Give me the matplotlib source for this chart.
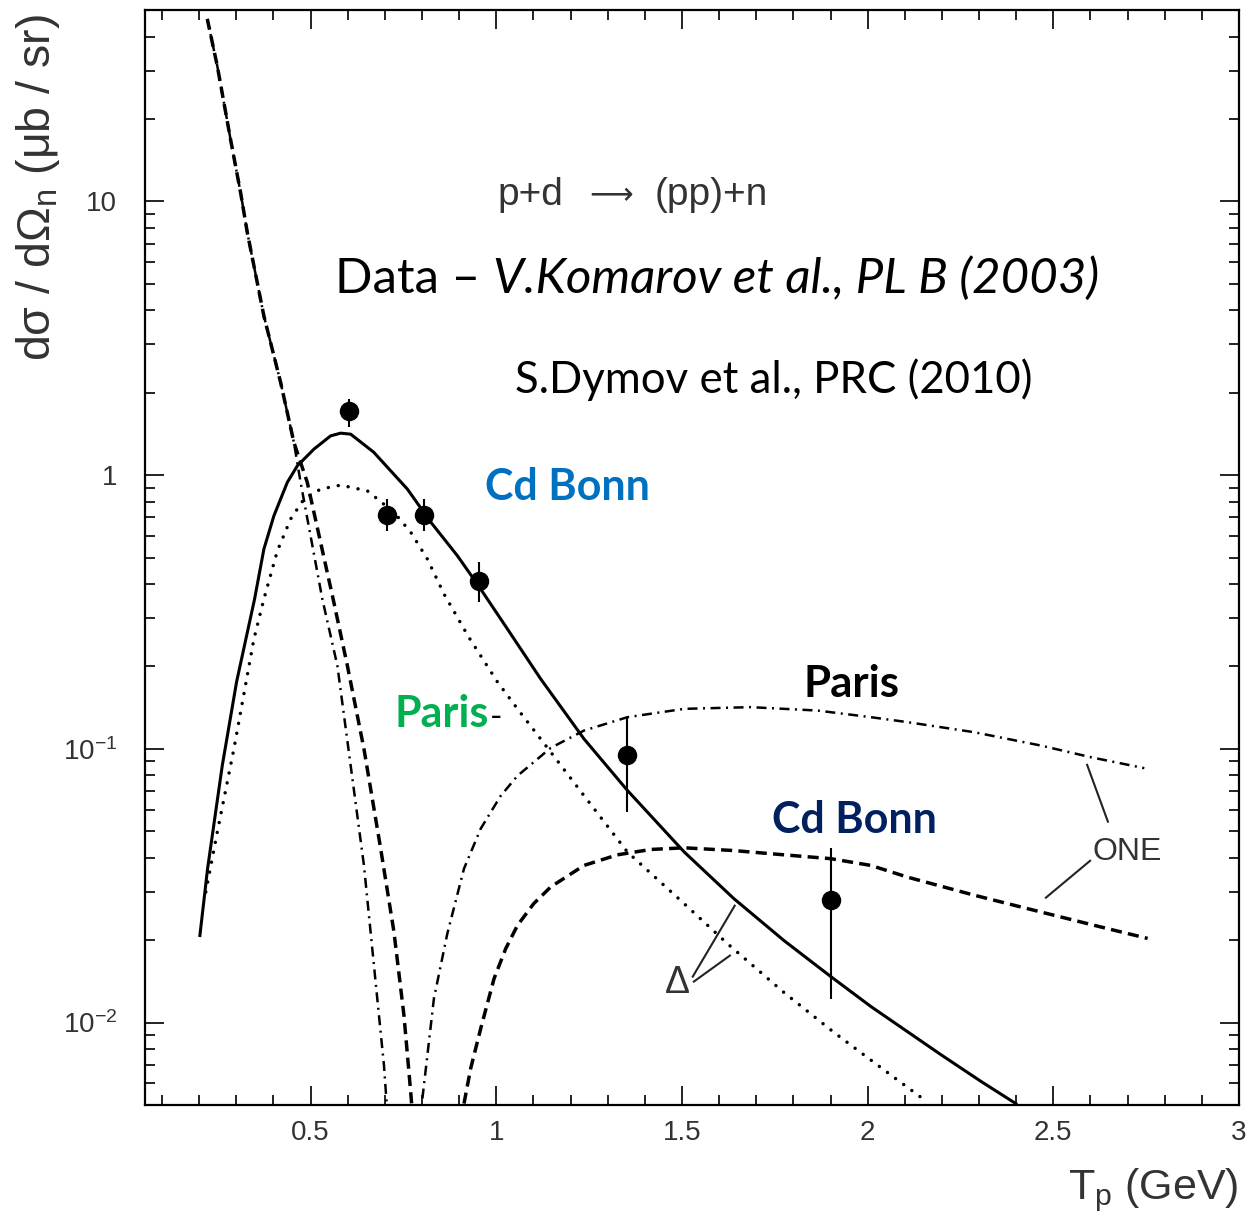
import numpy as np
import matplotlib
matplotlib.use("Agg")
import matplotlib.pyplot as plt
from matplotlib.ticker import MultipleLocator, LogLocator, FixedLocator, FixedFormatter, NullFormatter

# ---- measured cross sections, p+d -> (pp)+n, V.Komarov et al. (2003)
tp_data = [0.603, 0.705, 0.804, 0.953, 1.351, 1.901]
xs_data = [1.71, 0.716, 0.716, 0.411, 0.095, 0.0280]
xs_low = [1.50, 0.625, 0.625, 0.344, 0.0588, 0.01224]
xs_high = [1.89, 0.817, 0.817, 0.481, 0.1305, 0.0434]

# ---- full calculation, CD Bonn (solid)
tp_total = [0.2018, 0.2225, 0.2621, 0.3006, 0.3491, 0.3742, 0.4011, 0.4372, 0.4642, 0.5089,
            0.5539, 0.5808, 0.6078, 0.6697, 0.7605, 0.8233, 0.8952, 0.9518, 1.030, 1.1196,
            1.236, 1.353, 1.506, 1.640, 1.775, 1.901, 2.009, 2.197, 2.305, 2.399]
xs_total = [0.0208, 0.0365, 0.0869, 0.1756, 0.3527, 0.537, 0.710, 0.9405, 1.081, 1.244,
            1.391, 1.423, 1.411, 1.213, 0.889, 0.674, 0.5075, 0.3945, 0.274, 0.180,
            0.1088, 0.0705, 0.0420, 0.02835, 0.01992, 0.01472, 0.01144, 0.00764, 0.0061, 0.00506]

# ---- Delta contribution (dotted)
tp_delta = [0.2177, 0.2487, 0.2934, 0.3473, 0.3742, 0.4103, 0.4461, 0.4820, 0.5269, 0.5808,
            0.6527, 0.7244, 0.7694, 0.8144, 0.8591, 0.9257, 1.003, 1.057, 1.1466, 1.236,
            1.353, 1.506, 1.6226, 1.775, 1.910, 2.0356, 2.152]
xs_delta = [0.0300, 0.0497, 0.100, 0.252, 0.3527, 0.528, 0.691, 0.817, 0.889, 0.919,
            0.876, 0.731, 0.619, 0.4935, 0.368, 0.256, 0.1756, 0.140, 0.0973, 0.0675,
            0.0420, 0.02718, 0.01942, 0.01287, 0.00919, 0.00685, 0.00523]

# ---- one-nucleon exchange, Paris potential (dash-dot), two branches around its zero
tp_one_paris_a = [0.2217, 0.2487, 0.2845, 0.3114, 0.3295, 0.3742, 0.4192, 0.455, 0.473,
                  0.5315, 0.572, 0.6078, 0.6436, 0.6705, 0.6975, 0.7048]
xs_one_paris_a = [46.4, 31.2, 16.8, 10.76, 7.69, 3.81, 2.18, 1.316, 0.9405,
                  0.3527, 0.2014, 0.0869, 0.0375, 0.01619, 0.00698, 0.00506]
tp_one_paris_b = [0.801, 0.832, 0.868, 0.913, 0.958, 1.012, 1.057, 1.1466, 1.236, 1.353,
                  1.506, 1.685, 1.865, 2.009, 2.107, 2.287, 2.4666, 2.601, 2.745]
xs_one_paris_b = [0.00528, 0.01224, 0.0211, 0.0365, 0.0511, 0.0674, 0.0797, 0.1008, 0.1166,
                  0.1305, 0.140, 0.142, 0.138, 0.1305, 0.1252, 0.115, 0.1028, 0.0932, 0.0850]

# ---- one-nucleon exchange, CD Bonn potential (dashed), two branches around its zero
tp_one_bonn_a = [0.2217, 0.2487, 0.2845, 0.3114, 0.3295, 0.3742, 0.4192, 0.455, 0.491,
                 0.5606, 0.5989, 0.6436, 0.6886, 0.7244, 0.7513, 0.7694, 0.772]
xs_one_bonn_a = [46.4, 31.2, 16.8, 10.76, 7.69, 3.81, 2.18, 1.316, 0.9405,
                 0.3527, 0.2014, 0.100, 0.0432, 0.02144, 0.01063, 0.00559, 0.00506]
tp_one_bonn_b = [0.913, 0.931, 0.958, 0.994, 1.0253, 1.057, 1.1007, 1.1466, 1.236, 1.326,
                 1.416, 1.506, 1.640, 1.775, 1.901, 2.009, 2.107, 2.287, 2.4666, 2.646, 2.754]
xs_one_bonn_b = [0.00506, 0.00680, 0.00951, 0.01448, 0.01862, 0.02265, 0.0272, 0.0313, 0.0375,
                 0.0410, 0.0429, 0.0435, 0.0425, 0.0410, 0.0397, 0.0375, 0.0340, 0.0292,
                 0.02535, 0.02204, 0.0203]

# ---- leader lines for the "ONE" and "Δ" tags (data coordinates)
one_leader_x = [[2.591, 2.647], [2.599, 2.480]]
one_leader_y = [[0.0874, 0.0542], [0.0390, 0.0286]]
delta_leader_x = [[1.529, 1.642], [1.532, 1.629]]
delta_leader_y = [[0.01472, 0.02673], [0.01412, 0.01757]]

y_tick_values = [0.01, 0.1, 1, 10]
y_tick_labels = [r"$\mathregular{10^{-2}}$", r"$\mathregular{10^{-1}}$", "1", "10"]
x_tick_values = [0.5, 1, 1.5, 2, 2.5, 3]
x_tick_labels = ["0.5", "1", "1.5", "2", "2.5", "3"]

W, H = 1249, 1217
plt.rcParams["font.family"] = ["Liberation Sans", "DejaVu Sans"]
plt.rcParams["mathtext.fontset"] = "custom"
plt.rcParams["mathtext.rm"] = "Liberation Sans"

fig = plt.figure(figsize=(W / 100, H / 100), dpi=100)
ax = fig.add_axes([145 / W, 1 - 1105 / H, (1239 - 145) / W, (1105 - 10) / H])

ax.set_yscale("log")
ax.set_xlim(0.054, 3.0)
ax.set_ylim(0.005, 50)

ink = "black"
ax.plot(tp_total, xs_total, color=ink, lw=2.2, solid_joinstyle="round")
ax.plot(tp_delta, xs_delta, color=ink, lw=2.5, linestyle=(0, (0.01, 2.9)),
        dash_capstyle="round")
dashdot = (0, (4.0, 2.2, 0.8, 2.2))
ax.plot(tp_one_paris_a, xs_one_paris_a, color=ink, lw=1.8, linestyle=dashdot)
ax.plot(tp_one_paris_b, xs_one_paris_b, color=ink, lw=1.8, linestyle=dashdot)
dashed = (0, (3.2, 1.8))
ax.plot(tp_one_bonn_a, xs_one_bonn_a, color=ink, lw=2.5, linestyle=dashed)
ax.plot(tp_one_bonn_b, xs_one_bonn_b, color=ink, lw=2.5, linestyle=dashed)

xs_arr = np.array(xs_data)
yerr = [xs_arr - np.array(xs_low), np.array(xs_high) - xs_arr]
ax.errorbar(tp_data, xs_data, yerr=yerr, fmt="o", color=ink, ms=13,
            elinewidth=1.5, capsize=0, zorder=5)

for lx, ly in zip(one_leader_x + delta_leader_x, one_leader_y + delta_leader_y):
    ax.plot(lx, ly, color="#222222", lw=1.5)

# axes frame and ticks
for s in ax.spines.values():
    s.set_linewidth(1.6)
ax.xaxis.set_major_locator(FixedLocator(x_tick_values))
ax.xaxis.set_major_formatter(FixedFormatter(x_tick_labels))
ax.xaxis.set_minor_locator(MultipleLocator(0.1))
ax.yaxis.set_major_locator(FixedLocator(y_tick_values))
ax.yaxis.set_major_formatter(FixedFormatter(y_tick_labels))
ax.yaxis.set_minor_locator(LogLocator(base=10, subs=np.arange(2, 10), numticks=20))
ax.yaxis.set_minor_formatter(NullFormatter())
ax.tick_params(which="both", direction="in", top=True, right=True, width=1.4,
               colors="#222222", labelcolor="#333333", labelsize=20)
ax.tick_params(which="major", length=14)
ax.tick_params(which="minor", length=7.5)
ax.tick_params(axis="x", pad=11)
ax.tick_params(axis="y", pad=20)

def px(x, y):
    return x / W, 1 - y / H

gray = "#333333"
fig.text(*px(38, 14), "dσ / dΩ$_\\mathregular{n}$ (μb / sr)", rotation=90,
         ha="center", va="top", fontsize=33.5, color=gray)
fig.text(*px(1238, 1199), "T$_\\mathregular{p}$ (GeV)", ha="right", va="baseline",
         fontsize=31, color=gray)
fig.text(*px(497, 205), "p+d", ha="left", va="baseline", fontsize=28, color=gray)
fig.text(*px(589, 204), "⟶", ha="left", va="baseline", fontsize=22, color=gray,
         family=["DejaVu Sans"])
fig.text(*px(655, 205), "(pp)+n", ha="left", va="baseline", fontsize=28, color=gray)
fig.text(*px(1092, 860), "ONE", ha="left", va="baseline", fontsize=23, color=gray)
fig.text(*px(665, 993), "Δ", ha="left", va="baseline", fontsize=27, color=gray)

note_font = ["Lato", "DejaVu Sans"]
t = fig.text(*px(335, 293), "Data – ", ha="left", va="baseline", fontsize=35.5,
             family=note_font, color="black")
fig.canvas.draw()
bb = t.get_window_extent()
fig.text(bb.x1 / W, 1 - 293 / H, "V.Komarov et al., PL B (2003)", ha="left",
         va="baseline", fontsize=35.5, family=note_font, style="italic", color="black")
fig.text(*px(515, 393), "S.Dymov et al., PRC (2010)", ha="left", va="baseline",
         fontsize=31.5, family=note_font, color="black")
fig.text(*px(485, 500), "Cd Bonn", ha="left", va="baseline", fontsize=31,
         family=note_font, weight="bold", color="#0070C0")
fig.text(*px(772, 833), "Cd Bonn", ha="left", va="baseline", fontsize=31,
         family=note_font, weight="bold", color="#002060")
fig.text(*px(803, 697), "Paris", ha="left", va="baseline", fontsize=31.5,
         family=note_font, weight="bold", color="black")
pg = fig.text(*px(395, 727), "Paris", ha="left", va="baseline", fontsize=31,
              family=note_font, weight="bold", color="#00B050")
fig.canvas.draw()
bb = pg.get_window_extent()
fig.text(bb.x1 / W, 1 - 727 / H, "-", ha="left", va="baseline", fontsize=24,
         family=note_font, color="black")

fig.savefig("out.png", dpi=100)
